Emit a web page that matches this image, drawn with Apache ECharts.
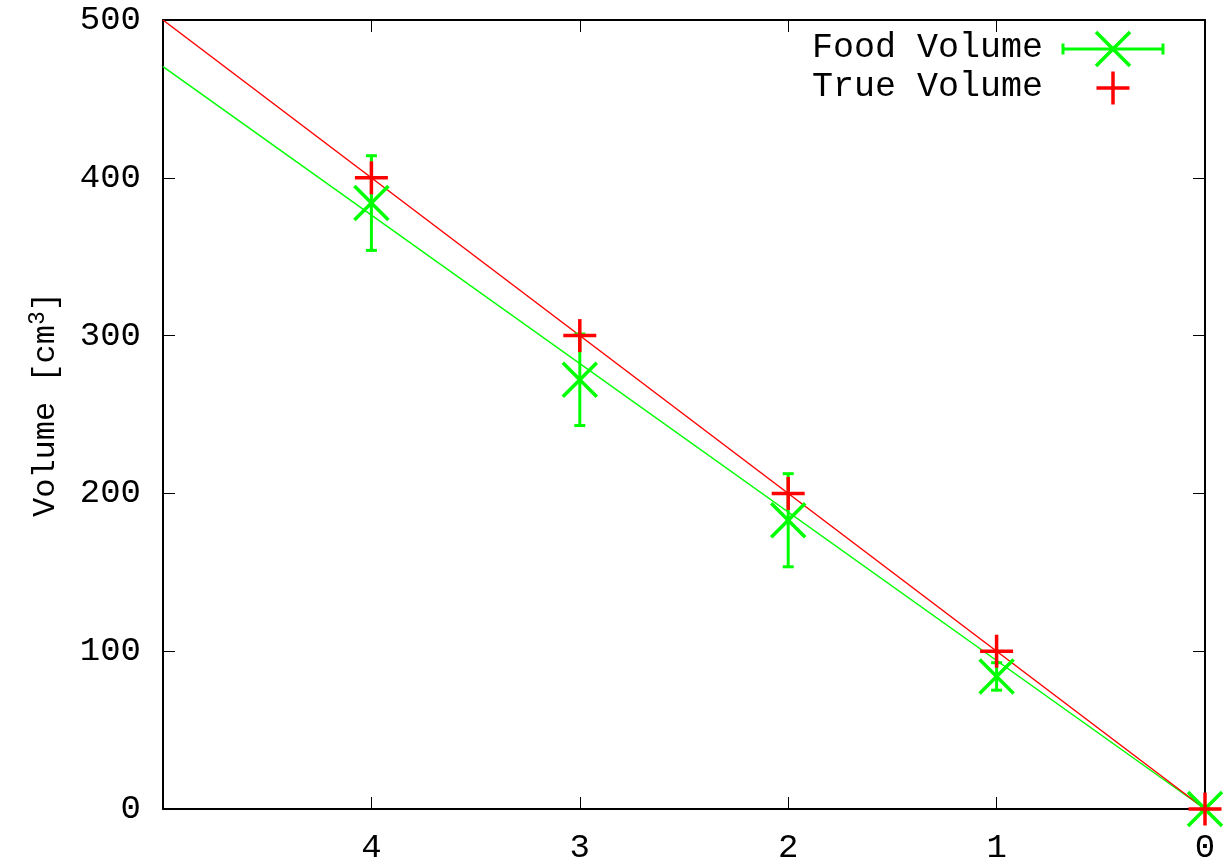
<!DOCTYPE html>
<html>
<head>
<meta charset="utf-8">
<script src="https://cdn.jsdelivr.net/npm/echarts@6/dist/echarts.min.js"></script>
<style>
  html, body { margin: 0; padding: 0; background: #fff; }
  #chart { width: 1230px; height: 865px; }
</style>
</head>
<body>
<div id="chart"></div>
<script>
// values
const sampleX = [4, 3, 2, 1, 0];
const foodVolume = [384, 272, 183, 84, 0];
const foodError = [30, 29, 29.5, 8.7, 0];
const trueVolume = [400, 300, 200, 100, 0];
// fitted lines, as end points
const fitX = [5, 0];
const foodFit = [470.5, 0];
const trueFit = [500, 0];

const GREEN = '#00ff00';
const RED = '#ff0000';
const FONT = 'Liberation Mono';

const chart = echarts.init(document.getElementById('chart'));

const foodPoints = sampleX.map((x, i) => [x, foodVolume[i], foodVolume[i] - foodError[i], foodVolume[i] + foodError[i]]);
const truePoints = sampleX.map((x, i) => [x, trueVolume[i]]);

function errorBars(params, api) {
  const top = api.coord([api.value(0), api.value(3)]);
  const bot = api.coord([api.value(0), api.value(2)]);
  const cap = 5.5;
  const style = { stroke: GREEN, lineWidth: 3 };
  return {
    type: 'group',
    children: [
      { type: 'line', shape: { x1: top[0], y1: top[1], x2: bot[0], y2: bot[1] }, style },
      { type: 'line', shape: { x1: top[0] - cap, y1: top[1], x2: top[0] + cap, y2: top[1] }, style },
      { type: 'line', shape: { x1: bot[0] - cap, y1: bot[1], x2: bot[0] + cap, y2: bot[1] }, style }
    ]
  };
}

function crossMark(params, api) {
  const p = api.coord([api.value(0), api.value(1)]);
  const h = 17;
  const style = { stroke: GREEN, lineWidth: 3.5 };
  return {
    type: 'group',
    children: [
      { type: 'line', shape: { x1: p[0] - h, y1: p[1] - h, x2: p[0] + h, y2: p[1] + h }, style },
      { type: 'line', shape: { x1: p[0] - h, y1: p[1] + h, x2: p[0] + h, y2: p[1] - h }, style }
    ]
  };
}

function plusMark(params, api) {
  const p = api.coord([api.value(0), api.value(1)]);
  const h = 16.5;
  const style = { stroke: RED, lineWidth: 3.5 };
  return {
    type: 'group',
    children: [
      { type: 'line', shape: { x1: p[0] - h, y1: p[1], x2: p[0] + h, y2: p[1] }, style },
      { type: 'line', shape: { x1: p[0], y1: p[1] - h, x2: p[0], y2: p[1] + h }, style }
    ]
  };
}

const axisText = { color: '#000', fontFamily: FONT, fontSize: 34 };
const tickStyle = { show: true, inside: true, length: 12, lineStyle: { color: '#000', width: 1 } };
const frame = { show: true, onZero: false, lineStyle: { color: '#000', width: 2 } };

const legendY1 = 49;
const legendY2 = 88;
const legendMid = 1113;
const legendFont = '35px "' + FONT + '"';

chart.setOption({
  animation: false,
  backgroundColor: '#fff',
  grid: { left: 163, right: 25, top: 20, bottom: 56 },
  xAxis: [
    {
      type: 'value', min: 0, max: 5, interval: 1, inverse: true, position: 'bottom',
      axisLine: frame, axisTick: tickStyle, splitLine: { show: false },
      axisLabel: Object.assign({ margin: 22, formatter: v => (v === 5 ? '' : String(v)) }, axisText)
    },
    {
      type: 'value', min: 0, max: 5, interval: 1, inverse: true, position: 'top',
      axisLine: frame, axisTick: tickStyle, splitLine: { show: false }, axisLabel: { show: false }
    }
  ],
  yAxis: [
    {
      type: 'value', min: 0, max: 500, interval: 100, position: 'left',
      axisLine: frame, axisTick: tickStyle, splitLine: { show: false },
      axisLabel: Object.assign({ margin: 22 }, axisText),
      name: 'Volume [cm{sup|3}]', nameLocation: 'middle', nameGap: 98, nameRotate: 90,
      nameTextStyle: {
        color: '#000', fontFamily: FONT, fontSize: 32, padding: [0, 0, 0, 20],
        rich: { sup: { fontFamily: FONT, fontSize: 23, verticalAlign: 'top', padding: [0, 0, 16, 0] } }
      }
    },
    {
      type: 'value', min: 0, max: 500, interval: 100, position: 'right',
      axisLine: frame, axisTick: tickStyle, splitLine: { show: false }, axisLabel: { show: false }
    }
  ],
  series: [
    {
      name: 'food fit', type: 'line', data: fitX.map((x, i) => [x, foodFit[i]]),
      symbol: 'none', lineStyle: { color: GREEN, width: 1.5 }, z: 2
    },
    {
      name: 'true fit', type: 'line', data: fitX.map((x, i) => [x, trueFit[i]]),
      symbol: 'none', lineStyle: { color: RED, width: 1.5 }, z: 3
    },
    { name: 'Food Volume error', type: 'custom', renderItem: errorBars, data: foodPoints, z: 4, clip: false },
    { name: 'Food Volume', type: 'custom', renderItem: crossMark, data: foodPoints, z: 5, clip: false },
    { name: 'True Volume', type: 'custom', renderItem: plusMark, data: truePoints, z: 6, clip: false }
  ],
  graphic: [
    { type: 'text', right: 1230 - 1043, top: legendY1 - 19, style: { text: 'Food Volume', font: legendFont, fill: '#000' } },
    { type: 'text', right: 1230 - 1043, top: legendY2 - 19, style: { text: 'True Volume', font: legendFont, fill: '#000' } },
    { type: 'line', shape: { x1: 1063, y1: legendY1, x2: 1163, y2: legendY1 }, style: { stroke: GREEN, lineWidth: 3 } },
    { type: 'line', shape: { x1: 1063, y1: legendY1 - 5.5, x2: 1063, y2: legendY1 + 5.5 }, style: { stroke: GREEN, lineWidth: 3 } },
    { type: 'line', shape: { x1: 1163, y1: legendY1 - 5.5, x2: 1163, y2: legendY1 + 5.5 }, style: { stroke: GREEN, lineWidth: 3 } },
    { type: 'line', shape: { x1: legendMid - 17, y1: legendY1 - 17, x2: legendMid + 17, y2: legendY1 + 17 }, style: { stroke: GREEN, lineWidth: 3.5 } },
    { type: 'line', shape: { x1: legendMid - 17, y1: legendY1 + 17, x2: legendMid + 17, y2: legendY1 - 17 }, style: { stroke: GREEN, lineWidth: 3.5 } },
    { type: 'line', shape: { x1: legendMid - 16.5, y1: legendY2, x2: legendMid + 16.5, y2: legendY2 }, style: { stroke: RED, lineWidth: 3.5 } },
    { type: 'line', shape: { x1: legendMid, y1: legendY2 - 16.5, x2: legendMid, y2: legendY2 + 16.5 }, style: { stroke: RED, lineWidth: 3.5 } }
  ]
});
</script>
</body>
</html>
